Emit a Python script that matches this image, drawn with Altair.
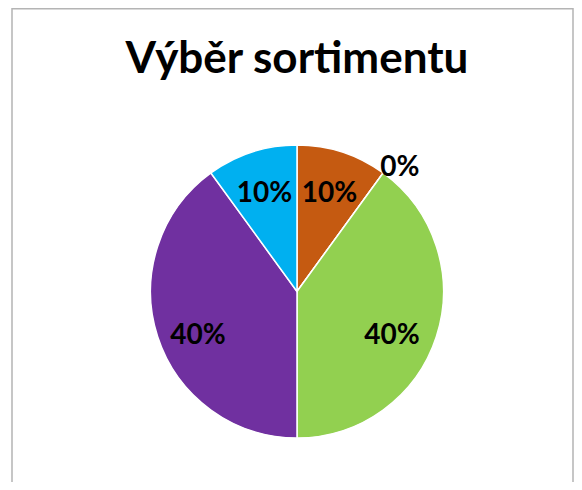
import altair as alt
import pandas as pd

# ---- data ----
categories = ["Položka 1", "Položka 2", "Položka 3", "Položka 4", "Položka 5"]
shares = [10, 0, 40, 40, 10]          # percent
colors = ["#C55A11", "#FFC000", "#92D050", "#7030A0", "#00B0F0"]
title_text = "Výběr sortimentu"

df = pd.DataFrame({
    "kategorie": categories,
    "podil": shares,
    "poradi": list(range(len(categories))),
})

CX, CY, R = 289, 283.5, 146.5
FONT = "Lato"
theta_scale = alt.Scale(domain=[0, 100], range=[0, 6.283185307179586])

base = alt.Chart(df).transform_window(
    cum="sum(podil)", sort=[alt.SortField("poradi")], frame=[None, 0]
).transform_calculate(
    start="datum.cum - datum.podil",
    mid="datum.cum - datum.podil / 2",
    label="format(datum.podil / 100, '.0%')",
)

arcs = base.mark_arc(radius=R, stroke="white", strokeWidth=1.5).encode(
    theta=alt.Theta("start:Q", scale=theta_scale),
    theta2="cum:Q",
    color=alt.Color("kategorie:N", scale=alt.Scale(domain=categories, range=colors), legend=None),
    x=alt.value(CX),
    y=alt.value(CY),
)

def label_layer(filt, radius, dx=0, dy=0):
    return base.transform_filter(filt).mark_text(
        radius=radius, dx=dx, dy=dy, font=FONT, fontSize=28, fontWeight="bold",
        color="black", align="center", baseline="middle",
    ).encode(
        theta=alt.Theta("mid:Q", scale=theta_scale),
        text="label:N",
        x=alt.value(CX),
        y=alt.value(CY),
    )

small = label_layer("datum.podil > 0 && datum.podil < 40", 105, dy=2)
big = label_layer("datum.podil >= 40", 102, dx=-2, dy=13)
zero = label_layer("datum.podil == 0", 158, dx=10, dy=4)

border = alt.Chart(alt.Data(values=[{}])).mark_rect(
    fill="transparent", stroke="#b4b4b4", strokeWidth=1.5
).encode(
    x=alt.value(4), x2=alt.value(565), y=alt.value(0.8), y2=alt.value(520)
)

title = alt.Chart(alt.Data(values=[{"t": title_text}])).mark_text(
    font=FONT, fontSize=44, fontWeight="bold", color="black",
    align="center", baseline="alphabetic",
).encode(text="t:N", x=alt.value(289), y=alt.value(65))

chart = alt.layer(border, arcs, small, big, zero, title).properties(
    width=566, height=474, autosize="none", padding=0
).configure_view(strokeWidth=0)

chart.save("out.html", embed_options={"renderer": "svg", "actions": False})
